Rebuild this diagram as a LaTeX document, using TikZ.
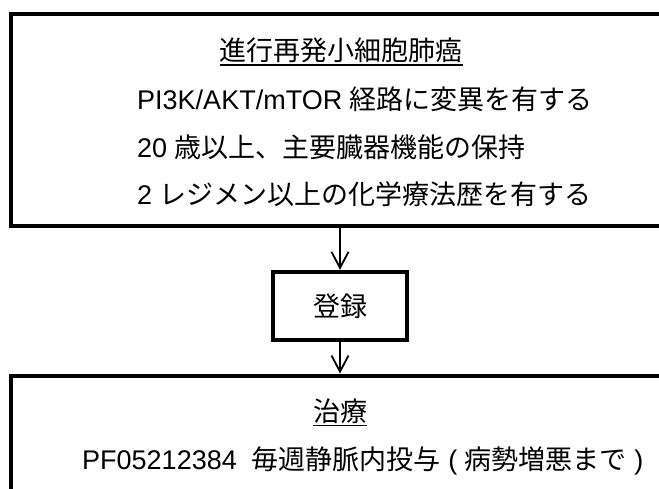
\documentclass[tikz,border=0pt]{standalone}
\usepackage{fontspec}
\setmainfont{Liberation Sans}
\newfontfamily\jafont{Noto Sans CJK JP}
\usetikzlibrary{arrows.meta}
\newcommand{\ja}[1]{{\jafont #1}}
\newcommand{\ulin}[1]{\vtop{\hbox{#1}\kern1.5pt\hrule height 1.8pt}}

\begin{document}
\begin{tikzpicture}[x=1pt, y=-1pt,
  framebox/.style={rectangle, draw=black, line width=4pt, inner sep=0pt},
  titletext/.style={anchor=base, inner sep=0pt, font=\fontsize{27}{32}\selectfont},
  linetext/.style={anchor=base west, inner sep=0pt, font=\fontsize{27}{32}\selectfont},
  arr/.style={-{Straight Barb[length=16pt, width=17pt, line width=1.8pt]}, line width=1.8pt},
  ]

\useasboundingbox (0,0) rectangle (659,488);
\clip (0,0) rectangle (659,488);

\node[framebox, minimum width=658pt, minimum height=212pt] (elig) at (340,120) {};
\node[framebox, minimum width=134pt, minimum height=68.5pt, font=\fontsize{27}{32}\selectfont] (reg) at (340,306) {\ja{登録}};
\node[framebox, minimum width=658pt, minimum height=184.5pt] (treat) at (340,467.75) {};

\node[titletext] (eligtitle) at (341,60) {\ulin{\ja{進行再発小細胞肺癌}}};
\node[linetext] (elig1) at (137,109.5) {PI3K/AKT/mTOR \ja{経路に変異を有する}};
\node[linetext] (elig2) at (137,157) {20 \ja{歳以上、主要臓器機能の保持}};
\node[linetext] (elig3) at (137,204) {2 \ja{レジメン以上の化学療法歴を有する}};

\node[titletext] (treattitle) at (340,421) {\ulin{\ja{治療}}};
\node[linetext] (treat1) at (82,469) {PF05212384\ \ \ja{毎週静脈内投与} ( \ja{病勢増悪まで} )};

\draw[arr] (elig) -- (reg);
\draw[arr] (reg) -- (treat);

\end{tikzpicture}
\end{document}
